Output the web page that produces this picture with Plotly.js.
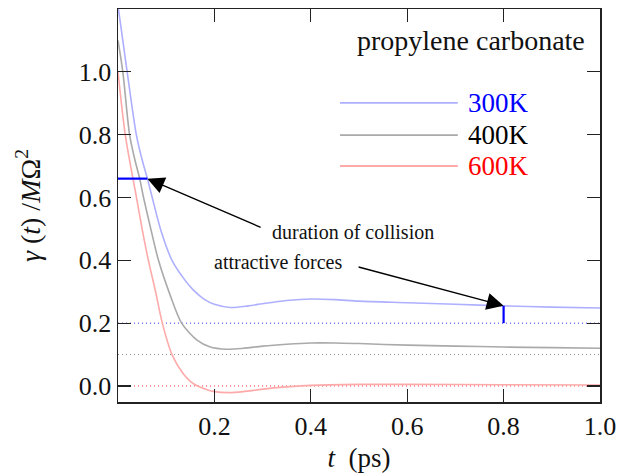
<!DOCTYPE html>
<html>
<head>
<meta charset="utf-8">
<script src="https://cdn.plot.ly/plotly-3.0.1.min.js"></script>
<style>html,body{margin:0;padding:0;background:#fff;}#chart{width:620px;height:474px;}</style>
</head>
<body>
<div id="chart"></div>
<script>
// --- data ---
const t300 = [0, 0.019, 0.038, 0.05, 0.061, 0.071, 0.09, 0.112, 0.135, 0.156, 0.18, 0.2, 0.233, 0.27, 0.3, 0.35, 0.4, 0.45, 0.5, 0.6, 0.7, 0.8, 0.9, 1.0];
const g300 = [1.21, 1.0, 0.8, 0.72, 0.66, 0.6, 0.49, 0.4, 0.345, 0.306, 0.275, 0.26, 0.25, 0.255, 0.262, 0.272, 0.277, 0.275, 0.27, 0.265, 0.26, 0.255, 0.251, 0.248];

const t400 = [0, 0.01, 0.024, 0.035, 0.045, 0.053, 0.068, 0.084, 0.108, 0.132, 0.164, 0.19, 0.226, 0.26, 0.3, 0.35, 0.4, 0.45, 0.5, 0.6, 0.7, 0.8, 0.9, 1.0];
const g400 = [1.10, 1.0, 0.8, 0.72, 0.66, 0.6, 0.5, 0.4, 0.29, 0.2, 0.146, 0.125, 0.117, 0.12, 0.127, 0.133, 0.137, 0.137, 0.135, 0.13, 0.127, 0.124, 0.122, 0.12];

const t600 = [0, 0.015, 0.031, 0.036, 0.05, 0.063, 0.078, 0.092, 0.112, 0.135, 0.15, 0.165, 0.185, 0.2, 0.23, 0.26, 0.3, 0.35, 0.4, 0.5, 0.6, 0.8, 1.0];
const g600 = [1.0, 0.8, 0.66, 0.62, 0.5, 0.4, 0.3, 0.2, 0.1, 0.04, 0.015, 0.0, -0.012, -0.018, -0.021, -0.018, -0.01, -0.003, 0.002, 0.005, 0.005, 0.004, 0.003];

const seriesNames = ['300K', '400K', '600K'];
const refLevels = [0.2, 0.1, 0.0];          // dotted asymptote lines
const collisionTime = 0.061;                 // duration of collision marker
const collisionLevel = 0.66;
const attractT = 0.8;                        // attractive forces marker
const attractTop = 0.255;
const attractBottom = 0.2;

const xTicks = [0.2, 0.4, 0.6, 0.8, 1.0];
const xTickText = ['0.2', '0.4', '0.6', '0.8', '1.0'];
const yTicks = [0.0, 0.2, 0.4, 0.6, 0.8, 1.0];
const yTickText = ['0.0', '0.2', '0.4', '0.6', '0.8', '1.0'];

// --- styles ---
const FONT = '"Liberation Serif", "DejaVu Serif", serif';
const curveColors = ['#aeb0ff', '#aaaaaa', '#ffaaaa'];
const textColors = ['#0000ff', '#000000', '#ff0000'];
const dotColors = ['#3333ff', '#888888', '#ff3333'];

const traces = [
  {x: t300, y: g300, mode: 'lines', line: {color: curveColors[0], width: 1.6, shape: 'spline', smoothing: 0.8}, name: seriesNames[0], hoverinfo: 'skip'},
  {x: t400, y: g400, mode: 'lines', line: {color: curveColors[1], width: 1.6, shape: 'spline', smoothing: 0.8}, name: seriesNames[1], hoverinfo: 'skip'},
  {x: t600, y: g600, mode: 'lines', line: {color: curveColors[2], width: 1.6, shape: 'spline', smoothing: 0.8}, name: seriesNames[2], hoverinfo: 'skip'},
  {x: [0, collisionTime], y: [collisionLevel, collisionLevel], mode: 'lines', line: {color: '#0000ff', width: 2.2}, hoverinfo: 'skip'},
  {x: [attractT, attractT], y: [attractBottom, attractTop], mode: 'lines', line: {color: '#0000ff', width: 2.2}, hoverinfo: 'skip'}
];

const shapes = refLevels.map((v, i) => ({
  type: 'line', xref: 'x', yref: 'y', x0: 0, x1: 1.0, y0: v, y1: v,
  line: {color: dotColors[i], width: 1, dash: '1px,3px'}, layer: 'below'
}));

// legend (custom, long line samples)
const legY = [0.761, 0.679, 0.6005];
legY.forEach((yy, i) => {
  shapes.push({type: 'line', xref: 'paper', yref: 'paper', x0: 0.4606, x1: 0.705, y0: yy, y1: yy,
    line: {color: curveColors[i], width: 1.8}});
});

const annotations = [
  {xref: 'paper', yref: 'paper', x: 0.972, y: 0.921, xanchor: 'right', yanchor: 'middle',
   text: 'propylene carbonate', showarrow: false, font: {family: FONT, size: 28, color: '#111'}},
  {x: collisionTime, y: collisionLevel, ax: 0.299, ay: 0.503, axref: 'x', ayref: 'y',
   showarrow: true, arrowhead: 2, arrowsize: 2.6, arrowwidth: 1.3, arrowcolor: '#000', text: ''},
  {x: attractT, y: attractTop, ax: 0.496, ay: 0.38, axref: 'x', ayref: 'y',
   showarrow: true, arrowhead: 2, arrowsize: 2.6, arrowwidth: 1.3, arrowcolor: '#000', text: ''},
  {x: 0.316, y: 0.49, xanchor: 'left', yanchor: 'middle', text: 'duration of collision',
   showarrow: false, font: {family: FONT, size: 20, color: '#111'}},
  {x: 0.195, y: 0.394, xanchor: 'left', yanchor: 'middle', text: 'attractive forces',
   showarrow: false, font: {family: FONT, size: 20, color: '#111'}}
];
legY.forEach((yy, i) => {
  annotations.push({xref: 'paper', yref: 'paper', x: 0.722, y: yy, xanchor: 'left', yanchor: 'middle',
    text: seriesNames[i], showarrow: false, font: {family: FONT, size: 27, color: textColors[i]}});
});

const axisCommon = {
  showgrid: false, zeroline: false, showline: true, linecolor: '#222', linewidth: 1.5,
  mirror: 'ticks', ticks: 'inside', ticklen: 13, tickwidth: 1.2, tickcolor: '#222',
  tickfont: {family: FONT, size: 26, color: '#111'}
};

const layout = {
  width: 620, height: 474,
  margin: {l: 118, r: 20, t: 9, b: 72},
  paper_bgcolor: '#fff', plot_bgcolor: '#fff',
  showlegend: false,
  font: {family: FONT},
  xaxis: Object.assign({}, axisCommon, {
    range: [0, 1.0], tickmode: 'array', tickvals: xTicks, ticktext: xTickText,
    title: {text: '<i>t</i>  (ps)', font: {family: FONT, size: 27, color: '#111'}, standoff: 8}
  }),
  yaxis: Object.assign({}, axisCommon, {
    range: [-0.051, 1.2], tickmode: 'array', tickvals: yTicks, ticktext: yTickText,
    title: {text: '<i>γ</i> (<i>t</i>) /<i>M</i>Ω<sup>2</sup>', font: {family: FONT, size: 28, color: '#111'}, standoff: 30}
  }),
  shapes: shapes,
  annotations: annotations
};

Plotly.newPlot('chart', traces, layout, {staticPlot: true, displayModeBar: false});
</script>
</body>
</html>
